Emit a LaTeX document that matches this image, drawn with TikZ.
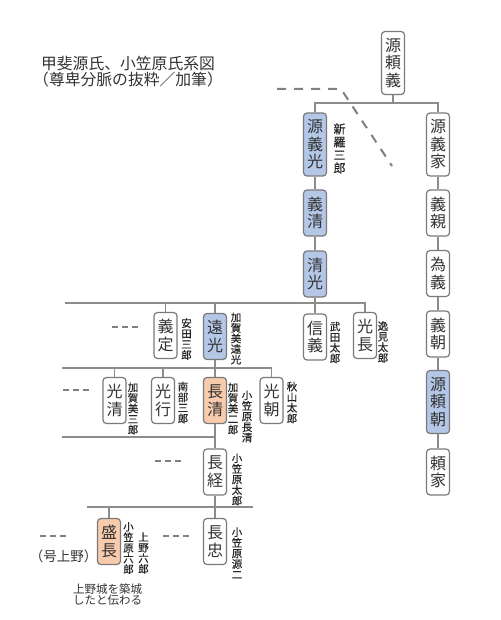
\documentclass[tikz,border=0pt]{standalone}
\usepackage{fontspec}
\setmainfont{Noto Sans CJK JP}
\newfontfamily\labfont{Noto Sans CJK JP}[FakeBold=0.4]
\definecolor{txt}{HTML}{333333}
\definecolor{labtxt}{HTML}{262626}
\definecolor{boxgray}{HTML}{7A7A7A}
\definecolor{linegray}{HTML}{8C8C8C}
\definecolor{dashgray}{HTML}{808080}
\definecolor{bluefill}{HTML}{B4C7E7}
\definecolor{orgfill}{HTML}{F8CBAD}
\begin{document}
\begin{tikzpicture}[x=1pt,y=-1pt,
  conn/.style={draw=linegray, line width=1.2pt},
  fam/.style={draw=boxgray, line width=1.2pt, rounded corners=3.5pt, fill=white, minimum width=23pt, inner sep=0pt, align=center, font=\fontsize{16}{17.5}\selectfont, text=txt},
  two/.style={fam, minimum height=46pt},
  three/.style={fam, minimum height=63pt},
  blu/.style={fill=bluefill},
  org/.style={fill=orgfill},
  lab/.style={inner sep=0pt, align=center, font=\labfont\fontsize{10.5}{10.6}\selectfont, text=labtxt},
  biglab/.style={lab, font=\labfont\fontsize{12}{13}\selectfont},
  dsh/.style={draw=dashgray, line width=1.2pt, dash pattern=on 6pt off 4pt},
  bigdash/.style={draw=dashgray, line width=2pt, dash pattern=on 9pt off 8pt}
]
\useasboundingbox (0,0) rectangle (500,620);
\fill[white] (0,0) rectangle (500,620);

% title
\node[align=center, font=\fontsize{15.8}{16}\selectfont, text=txt] (title) at (128,72) {甲斐源氏、小笠原氏系図\\（尊卑分脈の抜粋／加筆）};

% boxes
\node[three] (yoriyoshi) at (393,63) {源\\頼\\義};
\node[three,blu] (yoshimitsu) at (315,144.5) {源\\義\\光};
\node[three] (yoshiie) at (438,144.5) {源\\義\\家};
\node[two,blu] (yoshikiyo) at (315,213) {義\\清};
\node[two,blu] (kiyomitsu) at (315,274) {清\\光};
\node[two] (yoshichika) at (438,213) {義\\親};
\node[two] (tameyoshi) at (438,273.5) {為\\義};
\node[two] (yoshitomo) at (438,334) {義\\朝};
\node[three,blu] (yoritomo) at (438,402) {源\\頼\\朝};
\node[two] (yoriie) at (438,472) {頼\\家};
\node[two] (yoshisada) at (165.5,335.5) {義\\定};
\node[two,blu] (tomitsu) at (215,336.5) {遠\\光};
\node[two] (nobuyoshi) at (315,337) {信\\義};
\node[two] (mitsunaga) at (365,335.5) {光\\長};
\node[two] (mitsukiyo) at (114.5,400.5) {光\\清};
\node[two] (mitsuyuki) at (163,400.5) {光\\行};
\node[two,org] (nagakiyo) at (215,400.5) {長\\清};
\node[two] (mitsutomo) at (271.5,400.5) {光\\朝};
\node[two] (nagatsune) at (215,472) {長\\経};
\node[two,org] (morinaga) at (109,541.5) {盛\\長};
\node[two] (nagatada) at (215,541.5) {長\\忠};

% connectors
\coordinate (j0) at (393,103);
\draw[conn] (yoriyoshi.south) -- (j0);
\draw[conn] (yoshimitsu.north) |- (j0) -| (yoshiie.north);
\draw[conn] (yoshimitsu.south) -- (yoshikiyo.north);
\draw[conn] (yoshikiyo.south) -- (kiyomitsu.north);
\draw[conn] (yoshiie.south) -- (yoshichika.north);
\draw[conn] (yoshichika.south) -- (tameyoshi.north);
\draw[conn] (tameyoshi.south) -- (yoshitomo.north);
\draw[conn] (yoshitomo.south) -- (yoritomo.north);
\draw[conn] (yoritomo.south) -- (yoriie.north);

\coordinate (s1) at (65,303);
\draw[conn] (s1) -| (mitsunaga.north);
\draw[conn] (kiyomitsu.south) -- (nobuyoshi.north);
\draw[conn] (yoshisada.north) -- (yoshisada.north |- s1);
\draw[conn] (tomitsu.north) -- (tomitsu.north |- s1);

\coordinate (s2) at (62,368);
\draw[conn] (s2) -| (mitsutomo.north);
\draw[conn] (tomitsu.south) -- (nagakiyo.north);
\draw[conn] (mitsukiyo.north) -- (mitsukiyo.north |- s2);
\draw[conn] (mitsuyuki.north) -- (mitsuyuki.north |- s2);

\coordinate (s3) at (62,437);
\draw[conn] (nagakiyo.south) -- (nagatsune.north);
\draw[conn] (s3) -- (s3 -| nagakiyo.south);

\coordinate (s4) at (87,507);
\coordinate (e4) at (253,507);
\draw[conn] (s4) -- (e4);
\draw[conn] (nagatsune.south) -- (nagatada.north);
\draw[conn] (morinaga.north) -- (morinaga.north |- s4);

% dashed marks
\draw[bigdash] (277,89) -- (341,89) -- (392,166);
\draw[dsh] (112,327) -- (138,327);
\draw[dsh] (63,390) -- (90,390);
\draw[dsh] (155,461) -- (182,461);
\draw[dsh] (40,536) -- (67,536);
\draw[dsh] (163,536) -- (190,536);

% labels
\node[biglab] (lshinra) at (339.5,148.5) {新\\羅\\三\\郎};
\node[lab] (lyasuda) at (186.5,339) {安\\田\\三\\郎};
\node[lab] (lkagami1) at (236,338.5) {加\\賀\\美\\遠\\光};
\node[lab] (ltakeda) at (335,342.5) {武\\田\\太\\郎};
\node[lab] (lhemi) at (383,342) {逸\\見\\太\\郎};
\node[lab] (lkagami3) at (133,408.5) {加\\賀\\美\\三\\郎};
\node[lab] (lnanbu) at (183,402.5) {南\\部\\三\\郎};
\node[lab] (lkagami2) at (233,408.5) {加\\賀\\美\\二\\郎};
\node[lab] (logasa1) at (247,416.5) {小\\笠\\原\\長\\清};
\node[lab] (lakiyama) at (292,402.5) {秋\\山\\太\\郎};
\node[lab] (logasa2) at (237,479.5) {小\\笠\\原\\太\\郎};
\node[lab] (logasa3) at (128.5,548) {小\\笠\\原\\六\\郎};
\node[lab] (lueno) at (143.5,553) {上\\野\\六\\郎};
\node[lab] (logasa4) at (237,553) {小\\笠\\原\\源\\二};
\node[inner sep=0pt, font=\fontsize{13.5}{14}\selectfont, text=txt] (gou) at (63.5,556) {（号上野）};
\node[inner sep=0pt, align=center, font=\fontsize{11.5}{11.5}\selectfont, text=txt] (note) at (107.5,594.5) {上野城を築城\\したと伝わる};
\end{tikzpicture}
\end{document}
